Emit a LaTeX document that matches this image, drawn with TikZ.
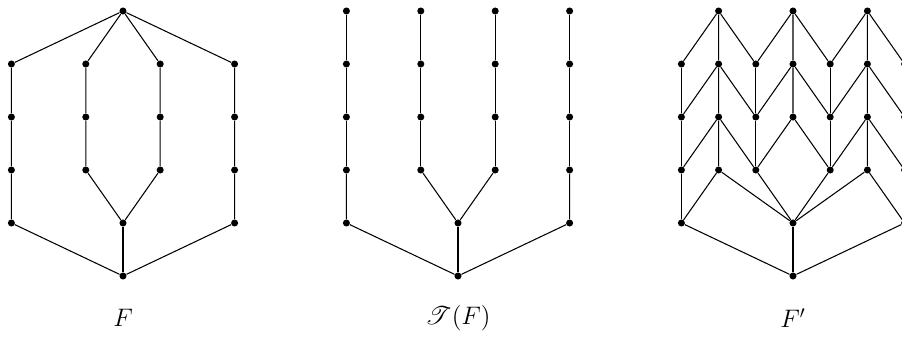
\documentclass[tikz,border=0pt]{standalone}
\usepackage{amsmath,amssymb}
\usepackage{mathrsfs}
\usepackage{tikz}
\usetikzlibrary{positioning}

\begin{document}
\begin{tikzpicture}[
    x=0.744cm, y=-1.06cm,
    vertex/.style={circle, fill=black, inner sep=0pt, minimum size=4pt},
    edge/.style={line width=0.6pt},
    caption/.style={font=\Large},
  ]
  \useasboundingbox (0cm,0.22cm) rectangle (18.04cm,-6.68cm);

  % F
  \begin{scope}[xshift=2.46cm]
    \node[vertex] (Fd0) at (0,0) {};
    \foreach \n/\x in {a/-3,c/-1,e/1,g/3}
      \foreach \l in {1,2,3}
        \node[vertex] (F\n\l) at (\x,\l) {};
    \node[vertex] (Fa4) at (-3,4) {};
    \node[vertex] (Fd4) at (0,4) {};
    \node[vertex] (Fg4) at (3,4) {};
    \node[vertex] (Fd5) at (0,5) {};
    \foreach \n in {a,c,e,g}
      \draw[edge] (Fd0) -- (F\n1) -- (F\n2) -- (F\n3);
    \draw[edge] (Fa3) -- (Fa4) -- (Fd5) -- (Fg4) -- (Fg3);
    \draw[edge] (Fc3) -- (Fd4) -- (Fe3);
    \draw[edge] (Fd4) -- (Fd5);
    \node[caption] (labF) at (0,5.79) {$F$};
  \end{scope}

  % T(F)
  \begin{scope}[xshift=9.16cm]
    \foreach \n/\x in {a/-3,c/-1,e/1,g/3}
      \foreach \l in {0,...,3}
        \node[vertex] (T\n\l) at (\x,\l) {};
    \node[vertex] (Ta4) at (-3,4) {};
    \node[vertex] (Td4) at (0,4) {};
    \node[vertex] (Tg4) at (3,4) {};
    \node[vertex] (Td5) at (0,5) {};
    \foreach \n in {a,c,e,g}
      \draw[edge] (T\n0) -- (T\n1) -- (T\n2) -- (T\n3);
    \draw[edge] (Ta3) -- (Ta4) -- (Td5) -- (Tg4) -- (Tg3);
    \draw[edge] (Tc3) -- (Td4) -- (Te3);
    \draw[edge] (Td4) -- (Td5);
    \node[caption] (labT) at (0,5.79) {$\mathscr{T}(F)$};
  \end{scope}

  % F'
  \begin{scope}[xshift=15.86cm]
    \foreach \n/\x in {b/-2,d/0,f/2}
      \node[vertex] (P\n0) at (\x,0) {};
    \foreach \n/\x in {a/-3,b/-2,c/-1,d/0,e/1,f/2,g/3}
      \foreach \l in {1,2}
        \node[vertex] (P\n\l) at (\x,\l) {};
    \foreach \n/\x in {a/-3,b/-2,c/-1,e/1,f/2,g/3}
      \node[vertex] (P\n3) at (\x,3) {};
    \foreach \n/\x in {a/-3,d/0,g/3}
      \node[vertex] (P\n4) at (\x,4) {};
    \node[vertex] (Pd5) at (0,5) {};
    % fans
    \foreach \t/\u/\v in {b/a/c,d/c/e,f/e/g}
      \foreach \l/\m in {0/1,1/2}
        \draw[edge] (P\u\m) -- (P\t\l) -- (P\v\m) (P\t\l) -- (P\t\m);
    \foreach \t/\u/\v in {b/a/c,f/e/g}
      \draw[edge] (P\u3) -- (P\t2) -- (P\v3) (P\t2) -- (P\t3);
    \draw[edge] (Pc3) -- (Pd2) -- (Pe3);
    \foreach \n in {a,c,e,g}
      \draw[edge] (P\n1) -- (P\n2) -- (P\n3);
    \draw[edge] (Pa3) -- (Pa4);
    \draw[edge] (Pg3) -- (Pg4);
    \draw[edge] (Pa4) -- (Pb3) -- (Pd4) -- (Pf3) -- (Pg4);
    \draw[edge] (Pc3) -- (Pd4) -- (Pe3);
    \draw[edge] (Pa4) -- (Pd5) -- (Pg4);
    \draw[edge] (Pd4) -- (Pd5);
    \node[caption] (labP) at (0,5.79) {$F'$};
  \end{scope}
\end{tikzpicture}
\end{document}
